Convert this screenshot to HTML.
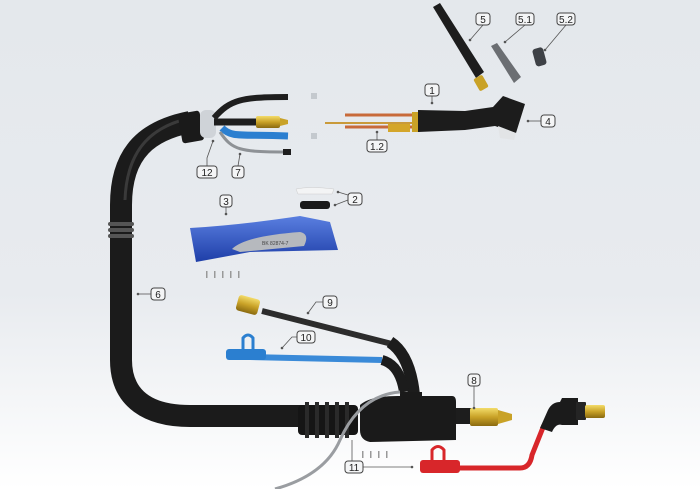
<!DOCTYPE html>
<html><head><meta charset="utf-8"><style>
html,body{margin:0;padding:0;width:700px;height:489px;overflow:hidden}
svg{display:block}
.lb rect{fill:#f4f5f6;stroke:#444;stroke-width:1}
.lb text{font-family:"Liberation Sans",sans-serif;font-size:10px;fill:#222;text-anchor:middle}
.ld{stroke:#555;stroke-width:0.8;fill:none}
</style></head><body>
<svg width="700" height="489" viewBox="0 0 700 489">
<defs>
<linearGradient id="bg" x1="0" y1="0" x2="0" y2="1">
<stop offset="0" stop-color="#e4e8ec"/><stop offset="0.6" stop-color="#e8ebef"/><stop offset="1" stop-color="#ffffff"/></linearGradient>
<linearGradient id="brass" x1="0" y1="0" x2="0" y2="1"><stop offset="0" stop-color="#f3dc6a"/><stop offset="0.5" stop-color="#c9a227"/><stop offset="1" stop-color="#8a6a10"/></linearGradient>
<linearGradient id="blue" x1="0" y1="0" x2="0" y2="1"><stop offset="0" stop-color="#5a7fe0"/><stop offset="1" stop-color="#1e3ea8"/></linearGradient>
</defs>
<rect width="700" height="489" fill="url(#bg)"/>

<!-- main cable -->
<path d="M190,122 C150,130 121,150 121,205 L121,360 C121,400 150,416 190,416 L305,416" fill="none" stroke="#1b1b1b" stroke-width="22"/>
<path d="M190,118 C155,126 127,146 125,200" fill="none" stroke="#3a3a3a" stroke-width="3"/>
<g fill="#555"><rect x="108" y="222" width="26" height="4" rx="2"/><rect x="108" y="228" width="26" height="4" rx="2"/><rect x="108" y="234" width="26" height="4" rx="2"/></g>
<!-- collar -->
<rect x="180" y="112" width="22" height="30" rx="3" fill="#1a1a1a" transform="rotate(-10 191 127)"/>
<rect x="200" y="110" width="16" height="28" rx="6" fill="#cfd3d8"/>
<!-- hoses out -->
<path d="M214,118 C230,100 240,97 288,97" fill="none" stroke="#1e1e1e" stroke-width="6"/>
<path d="M214,122 L258,122" stroke="#1e1e1e" stroke-width="7"/>
<rect x="256" y="116" width="24" height="12" rx="2" fill="url(#brass)"/>
<polygon points="280,118 288,120 288,124 280,126" fill="#c9a227"/>
<path d="M222,128 C232,138 240,134 288,136" fill="none" stroke="#2b7fd0" stroke-width="7"/>
<path d="M220,132 C232,150 240,152 286,152" fill="none" stroke="#8e9296" stroke-width="3"/>
<rect x="283" y="149" width="8" height="6" fill="#1e1e1e"/>
<rect x="311" y="93" width="6" height="6" fill="#c4c9ce"/><rect x="311" y="133" width="6" height="6" fill="#c4c9ce"/>

<!-- torch body -->
<line x1="325" y1="123" x2="415" y2="123" stroke="#c99a3a" stroke-width="2"/>
<line x1="345" y1="115" x2="415" y2="115" stroke="#c86a3a" stroke-width="3"/>
<line x1="345" y1="127" x2="415" y2="127" stroke="#c86a3a" stroke-width="3"/>
<rect x="388" y="124" width="22" height="8" fill="#d4a62a"/>
<rect x="412" y="112" width="8" height="20" fill="#c9a227"/>
<path d="M418,110 L465,111 L493,107 L503,96 L525,104 L516,133 L495,126 L465,130 L418,132 Z" fill="#1c1c1c"/>
<path d="M498,126 L516,133 L514,140 L500,138 Z" fill="#e2e4e6"/>
<!-- 5 -->
<path d="M433,7 L440,3 L484,72 L476,78 Z" fill="#1d1d1d"/>
<rect x="476" y="76" width="10" height="14" rx="2" fill="#c9a227" transform="rotate(-30 481 83)"/>
<path d="M491,46 L497,43 L521,77 L514,83 Z" fill="#6b6e72"/>
<rect x="534" y="48" width="11" height="18" rx="3" fill="#3e4146" transform="rotate(-15 539 57)"/>

<!-- parts 2 -->
<path d="M296,189 Q310,186 334,189 L332,194 L298,194 Z" fill="#f3f4f5" stroke="#ccc" stroke-width="0.5"/>
<rect x="300" y="201" width="30" height="8" rx="3" fill="#1a1a1a"/>
<!-- handle 3 -->
<path d="M190,228 Q240,225 300,216 L330,222 L338,250 L250,252 L196,262 Z" fill="url(#blue)"/>
<path d="M232,249 Q245,236 300,232 Q310,234 304,246 L240,252 Z" fill="#b6b9be"/>
<text x="262" y="245" font-family="Liberation Sans" font-size="5" fill="#444">BK 82874-7</text>
<g fill="#999"><rect x="206" y="271" width="1.5" height="7"/><rect x="214" y="271" width="1.5" height="7"/><rect x="222" y="271" width="1.5" height="7"/><rect x="230" y="271" width="1.5" height="7"/><rect x="238" y="271" width="1.5" height="7"/></g>

<!-- 9 and 10 hoses -->
<path d="M262,311 L392,344" stroke="#2c2c2c" stroke-width="6"/>
<rect x="237" y="297" width="22" height="16" rx="3" fill="url(#brass)" transform="rotate(15 248 305)"/>
<path d="M250,357 L382,360" stroke="#3a8ad8" stroke-width="6"/>
<rect x="226" y="349" width="40" height="11" rx="3" fill="#2b7fd0"/>
<path d="M243,350 L243,338 Q248,332 253,338 L253,350" fill="none" stroke="#2b7fd0" stroke-width="3"/>
<path d="M390,342 Q410,355 414,395" fill="none" stroke="#1c1c1c" stroke-width="12"/>
<path d="M382,360 Q400,365 404,392" fill="none" stroke="#1c1c1c" stroke-width="10"/>
<!-- connector 8 -->
<rect x="298" y="405" width="60" height="30" rx="4" fill="#151515"/>
<g fill="#2a2a2a"><rect x="305" y="402" width="4" height="36"/><rect x="315" y="402" width="4" height="36"/><rect x="325" y="402" width="4" height="36"/><rect x="335" y="402" width="4" height="36"/><rect x="345" y="402" width="4" height="36"/></g>
<path d="M360,405 Q370,396 398,396 L452,396 Q456,396 456,402 L456,440 L370,442 Q360,440 360,430 Z" fill="#1a1a1a"/>
<rect x="400" y="392" width="22" height="12" fill="#1a1a1a"/>
<rect x="456" y="408" width="16" height="16" fill="#1d1d1d"/>
<rect x="470" y="408" width="28" height="18" rx="2" fill="url(#brass)"/>
<polygon points="498,410 512,414 512,420 498,424" fill="#c9a227"/>
<!-- gray cable -->
<path d="M400,392 Q360,395 340,440 Q325,475 275,489" fill="none" stroke="#9a9da1" stroke-width="3"/>
<g fill="#999"><rect x="362" y="451" width="1.5" height="7"/><rect x="370" y="451" width="1.5" height="7"/><rect x="378" y="451" width="1.5" height="7"/><rect x="386" y="451" width="1.5" height="7"/></g>
<!-- red cable -->
<path d="M450,468 L520,468 Q530,468 532,455 L538,440 L544,425" fill="none" stroke="#d8262a" stroke-width="5"/>
<rect x="420" y="460" width="40" height="13" rx="3" fill="#d8262a"/>
<path d="M432,461 L432,450 Q438,443 444,450 L444,461" fill="none" stroke="#d8262a" stroke-width="3"/>
<path d="M540,428 L548,410 Q552,402 560,402 L562,398 L578,398 L578,425 L562,425 Q556,423 552,432 Z" fill="#1b1b1b"/>
<rect x="576" y="402" width="10" height="18" rx="1" fill="#252525"/>
<rect x="585" y="405" width="20" height="13" rx="2" fill="url(#brass)"/>

<!-- leader lines -->
<g class="ld">
<path d="M483,25 L470,40"/><path d="M525,25 L505,42"/><path d="M566,25 L545,50"/>
<path d="M432,96 L432,103"/><path d="M541,121 L528,121"/><path d="M377,140 L377,132"/>
<path d="M207,166 L207,158 L213,141"/><path d="M238,166 L240,154"/>
<path d="M348,195 L338,192 M348,200 L335,205"/><path d="M226,207 L226,214"/>
<path d="M151,294 L138,294"/><path d="M323,302 L316,302 L308,313"/>
<path d="M299,337 L292,337 L282,348"/><path d="M474,386 L474,408"/>
<path d="M361,467 L412,467"/><path d="M352,461 L352,440"/>
</g>
<g fill="#555"><circle cx="470" cy="40" r="1.3"/><circle cx="505" cy="42" r="1.3"/><circle cx="545" cy="50" r="1.3"/><circle cx="432" cy="103" r="1.3"/><circle cx="528" cy="121" r="1.3"/><circle cx="377" cy="132" r="1.3"/><circle cx="213" cy="141" r="1.3"/><circle cx="240" cy="154" r="1.3"/><circle cx="338" cy="192" r="1.3"/><circle cx="335" cy="205" r="1.3"/><circle cx="226" cy="214" r="1.3"/><circle cx="138" cy="294" r="1.3"/><circle cx="308" cy="313" r="1.3"/><circle cx="282" cy="348" r="1.3"/><circle cx="474" cy="408" r="1.3"/><circle cx="412" cy="467" r="1.3"/></g>

<!-- labels -->
<g class="lb">
<g transform="translate(483,19)"><rect x="-7" y="-6" width="14" height="12" rx="3"/><text y="4">5</text></g>
<g transform="translate(525,19)"><rect x="-9" y="-6" width="18" height="12" rx="3"/><text y="4">5.1</text></g>
<g transform="translate(566,19)"><rect x="-9" y="-6" width="18" height="12" rx="3"/><text y="4">5.2</text></g>
<g transform="translate(432,90)"><rect x="-7" y="-6" width="14" height="12" rx="3"/><text y="4">1</text></g>
<g transform="translate(548,121)"><rect x="-7" y="-6" width="14" height="12" rx="3"/><text y="4">4</text></g>
<g transform="translate(377,146)"><rect x="-10" y="-6" width="20" height="12" rx="3"/><text y="4">1.2</text></g>
<g transform="translate(207,172)"><rect x="-10" y="-6" width="20" height="12" rx="3"/><text y="4">12</text></g>
<g transform="translate(238,172)"><rect x="-6" y="-6" width="12" height="12" rx="3"/><text y="4">7</text></g>
<g transform="translate(355,199)"><rect x="-7" y="-6" width="14" height="12" rx="3"/><text y="4">2</text></g>
<g transform="translate(226,201)"><rect x="-6" y="-6" width="12" height="12" rx="3"/><text y="4">3</text></g>
<g transform="translate(158,294)"><rect x="-7" y="-6" width="14" height="12" rx="3"/><text y="4">6</text></g>
<g transform="translate(330,302)"><rect x="-7" y="-6" width="14" height="12" rx="3"/><text y="4">9</text></g>
<g transform="translate(306,337)"><rect x="-9" y="-6" width="18" height="12" rx="3"/><text y="4">10</text></g>
<g transform="translate(474,380)"><rect x="-6" y="-6" width="12" height="12" rx="3"/><text y="4">8</text></g>
<g transform="translate(354,467)"><rect x="-9" y="-6" width="18" height="12" rx="3"/><text y="4">11</text></g>
</g>
</svg>
</body></html>
